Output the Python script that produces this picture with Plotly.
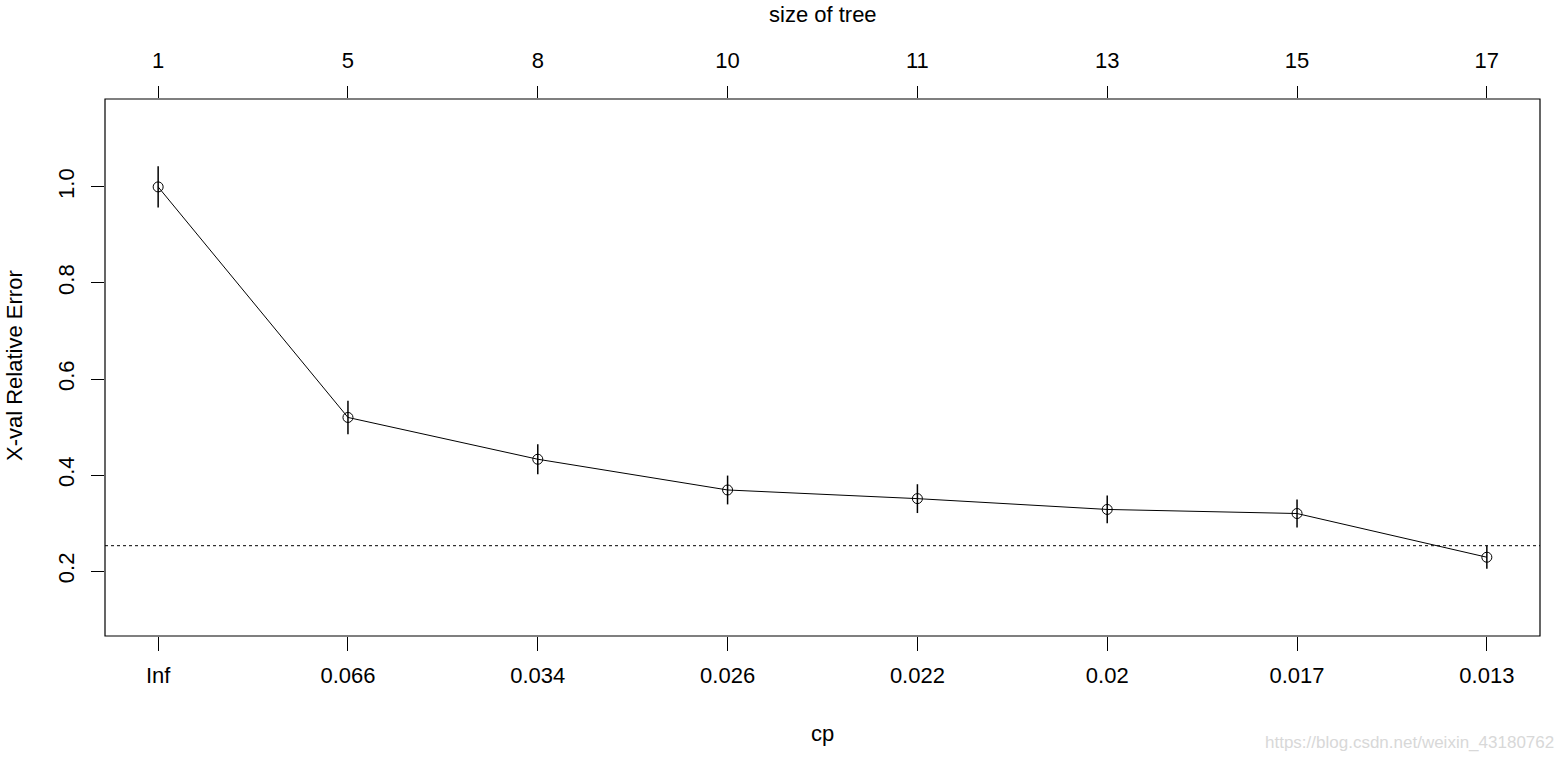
import plotly.graph_objects as go

# Data (rpart plotcp)
positions = [1, 2, 3, 4, 5, 6, 7, 8]
cp_labels = ["Inf", "0.066", "0.034", "0.026", "0.022", "0.02", "0.017", "0.013"]
tree_sizes = ["1", "5", "8", "10", "11", "13", "15", "17"]
xerror = [1.000, 0.520, 0.433, 0.369, 0.351, 0.3285, 0.320, 0.229]
xstd = [0.043, 0.035, 0.031, 0.030, 0.030, 0.029, 0.029, 0.024]
threshold = 0.253
y_ticks = [0.2, 0.4, 0.6, 0.8, 1.0]
y_ticklabels = ["0.2", "0.4", "0.6", "0.8", "1.0"]

FONT = "Liberation Sans, Arial, sans-serif"
FS = 22
XR = [0.72, 8.28]
YR = [0.065, 1.183]

fig = go.Figure()

fig.add_trace(go.Scatter(
    x=positions, y=xerror, mode="lines+markers",
    line=dict(color="black", width=1),
    marker=dict(symbol="circle-open", size=10, color="black", line=dict(width=1)),
    error_y=dict(type="data", array=xstd, visible=True, width=0, thickness=1.5, color="black"),
    showlegend=False, hoverinfo="skip",
))

# invisible trace to activate top axis
fig.add_trace(go.Scatter(
    x=positions, y=xerror, xaxis="x2", mode="markers",
    marker=dict(opacity=0), showlegend=False, hoverinfo="skip",
))

fig.add_shape(type="line", xref="paper", yref="y", x0=0, x1=1, y0=threshold, y1=threshold,
              line=dict(color="black", width=1, dash="dot"))
fig.add_shape(type="rect", xref="paper", yref="paper", x0=0, x1=1, y0=0, y1=1,
              line=dict(color="black", width=1.2))

fig.update_layout(
    width=1566, height=760,
    margin=dict(l=105, r=26, t=99, b=124),
    plot_bgcolor="white", paper_bgcolor="white",
    font=dict(family=FONT, size=FS, color="black"),
    xaxis=dict(range=XR, tickvals=positions, ticktext=cp_labels, showgrid=False, zeroline=False,
               ticks="outside", ticklen=14, tickwidth=1.2, tickcolor="black",
               showline=False, ticklabelstandoff=6, tickfont=dict(size=FS)),
    xaxis2=dict(range=XR, overlaying="x", side="top", tickvals=positions, ticktext=tree_sizes,
                showgrid=False, zeroline=False, ticks="outside", ticklen=12, tickwidth=1.2,
                tickcolor="black", showline=False, ticklabelstandoff=9, tickfont=dict(size=FS)),
    yaxis=dict(range=YR, tickvals=y_ticks, ticktext=y_ticklabels, showgrid=False, zeroline=False,
               ticks="outside", ticklen=13, tickwidth=1.2, tickcolor="black", tickangle=-90,
               showline=False, ticklabelstandoff=8, tickfont=dict(size=FS)),
)

fig.add_annotation(text="cp", xref="paper", yref="paper", x=0.5, y=-(733 - 636) / 537,
                   showarrow=False, xanchor="center", yanchor="middle", font=dict(size=FS))
fig.add_annotation(text="size of tree", xref="paper", yref="paper", x=0.5, y=1 + (99 - 14) / 537,
                   showarrow=False, xanchor="center", yanchor="middle", font=dict(size=FS))
fig.add_annotation(text="X-val Relative Error", xref="paper", yref="paper",
                   x=-(105 - 14) / 1435, y=(636 - 366) / 537, textangle=-90,
                   showarrow=False, xanchor="center", yanchor="middle", font=dict(size=FS))
fig.add_annotation(text="https://blog.csdn.net/weixin_43180762", xref="paper", yref="paper",
                   x=(1556 - 105) / 1435, y=-(742 - 636) / 537, showarrow=False,
                   xanchor="right", yanchor="middle", font=dict(size=17, color="#d8d8d8"))

fig.write_html("out.html", config={"displayModeBar": False},
               post_script="document.body.style.margin='0px';")
